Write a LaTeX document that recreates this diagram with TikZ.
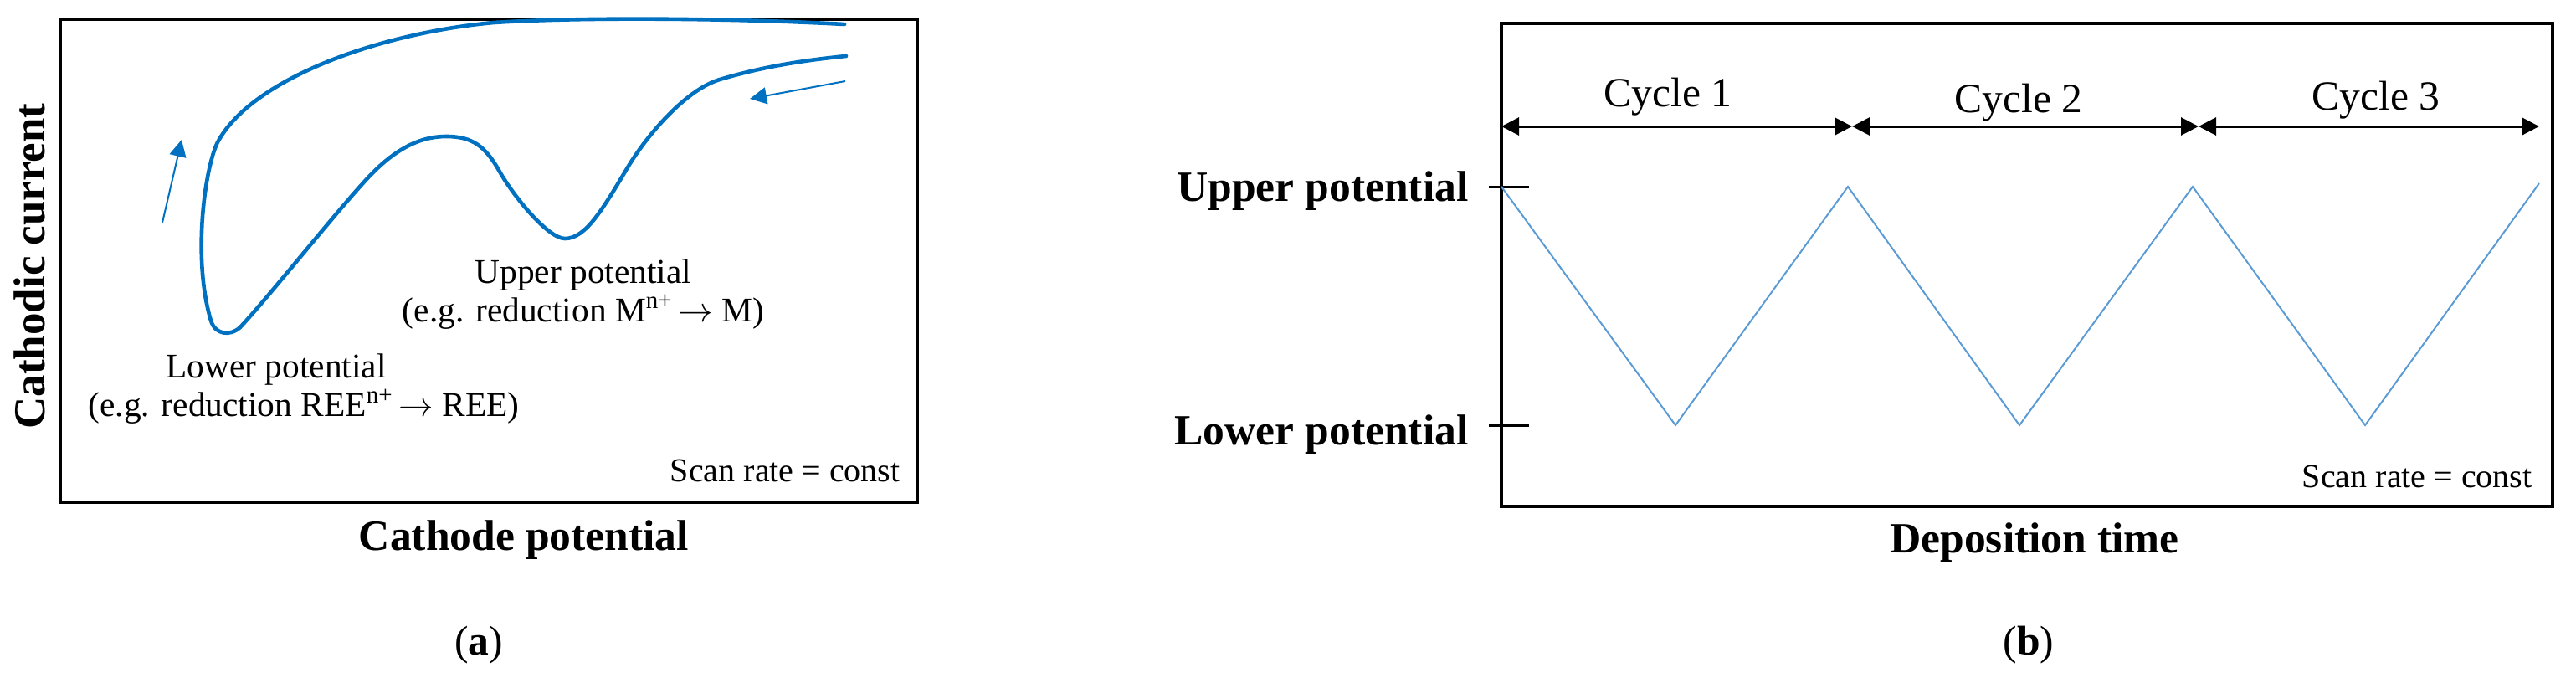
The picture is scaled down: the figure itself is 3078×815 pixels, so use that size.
\documentclass[tikz,border=0pt]{standalone}
\usepackage{fontspec}
\setmainfont{Liberation Serif}
\usetikzlibrary{arrows.meta}
\definecolor{cvblue}{RGB}{0,112,192}
\definecolor{wvblue}{RGB}{91,155,213}
\begin{document}
\begin{tikzpicture}[x=0.5pt,y=-0.5pt,
  frame/.style={draw=black,line width=2pt},
  big/.style={font=\fontsize{24.8}{28}\selectfont,inner sep=0pt},
  bigb/.style={font=\fontsize{25.8}{28}\selectfont\bfseries,inner sep=0pt},
  note/.style={font=\fontsize{20.7}{23}\selectfont,inner sep=0pt,anchor=base},
  scan/.style={font=\fontsize{20}{22}\selectfont,inner sep=0pt,anchor=base east},
  curve/.style={draw=cvblue,line width=2.3pt,line cap=round,line join=round},
  sweep/.style={draw=cvblue,line width=1pt,-{Triangle[length=10pt,width=10pt]}},
  cyc/.style={draw=black,line width=1.5pt,{Triangle[length=10.5pt,width=10.5pt]}-{Triangle[length=10.5pt,width=10.5pt]}},
  tick/.style={draw=black,line width=1.5pt},
  wave/.style={draw=wvblue,line width=1pt}]
\useasboundingbox (0,0) rectangle (3078,815);

% ---------- panel (a) ----------
\draw[frame] (72,23) rectangle (1096,600);
\path[curve] (1009,29)
  .. controls (880,22) and (700,20) .. (590,27)
  .. controls (450,40) and (300,95) .. (260,170)
  .. controls (245,200) and (229.5,308) .. (252,383)
  .. controls (257,400) and (275,402) .. (287,391)
  .. controls (325,350) and (400,255) .. (440,212)
  .. controls (470,180) and (500,163) .. (533,163)
  .. controls (565,163) and (580,175) .. (597,205)
  .. controls (614,235) and (655,285) .. (675,285)
  .. controls (700,285) and (720,250) .. (750,200)
  .. controls (774,160) and (820,107) .. (860,95)
  .. controls (910,80) and (960,72) .. (1011,67);
\coordinate (upA) at (194,266); \coordinate (upB) at (217,167);
\draw[sweep] (upA) -- (upB);
\coordinate (lfA) at (1010,97); \coordinate (lfB) at (896,118);
\draw[sweep] (lfA) -- (lfB);

\node[font=\fontsize{26.5}{28}\selectfont\bfseries,inner sep=0pt,rotate=90] (ylab) at (35,318) {Cathodic current};
\node[bigb,anchor=base] (xlabA) at (626,657) {Cathode potential};
\node[big,anchor=base] (capA) at (572,782) {(\textbf{a})};

\node[note] (up1) at (697,338) {Upper potential};
\node[note] (up2) at (697,384) {(e.g. reduction M\textsuperscript{n+}\,$\rightarrow$ M)};
\node[note] (lo1) at (330,451) {Lower potential};
\node[note] (lo2) at (363,497) {(e.g. reduction REE\textsuperscript{n+}\,$\rightarrow$ REE)};
\node[scan] (scanA) at (1076,575) {Scan rate = const};

% ---------- panel (b) ----------
\draw[frame] (1794,28) rectangle (3050,605);
\coordinate (c0) at (1794,151); \coordinate (c1) at (2213,151);
\coordinate (c2) at (2627,151); \coordinate (c3) at (3034,151);
\draw[cyc] (c0) -- (c1);
\draw[cyc] (c1) -- (c2);
\draw[cyc] (c2) -- (c3);
\node[big,anchor=base] (cy1) at (1993,127) {Cycle 1};
\node[big,anchor=base] (cy2) at (2412,134) {Cycle 2};
\node[big,anchor=base] (cy3) at (2839,131) {Cycle 3};

\coordinate (tuA) at (1779,223); \coordinate (tuB) at (1827,223);
\coordinate (tlA) at (1779,508); \coordinate (tlB) at (1827,508);
\draw[tick] (tuA) -- (tuB);
\draw[tick] (tlA) -- (tlB);
\node[bigb,anchor=base east] (upLab) at (1755,240) {Upper potential};
\node[bigb,anchor=base east] (loLab) at (1755,531) {Lower potential};

\draw[wave] (1794,223) -- (2002,508) -- (2208,223) -- (2413,508)
  -- (2620,223) -- (2826,508) -- (3034,219);

\node[scan] (scanB) at (3026,582) {Scan rate = const};
\node[bigb,anchor=base] (xlabB) at (2431,660) {Deposition time};
\node[big,anchor=base] (capB) at (2424,782) {(\textbf{b})};
\end{tikzpicture}
\end{document}
